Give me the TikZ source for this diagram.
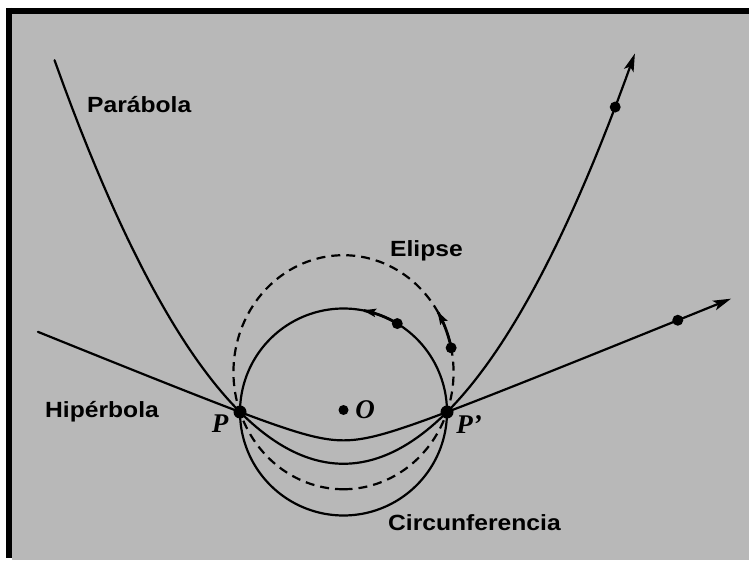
\documentclass[tikz,border=0pt]{standalone}
\usepackage{fontspec}
\setmainfont{Liberation Serif}
\setsansfont{Liberation Sans}
\usetikzlibrary{arrows.meta}
\begin{document}
\begin{tikzpicture}[x=1pt,y=1pt,
  declare function={cx(\e,\t)=343.5+103.5*sin(\t)/(1+\e*cos(\t));
                    cy(\e,\t)=148-103.5*cos(\t)/(1+\e*cos(\t));},
  curve/.style={line width=2.2pt, line cap=round},
  dashcurve/.style={line width=2.2pt, dash pattern=on 9pt off 6pt},
  orbarrow/.style={line width=2.8pt, -{Stealth[length=13pt,width=8pt,inset=2pt]}},
  bigtip/.style={-{Stealth[length=18pt,width=10pt,inset=4pt]}},
  dot/.style={circle, fill=black, inner sep=0pt, minimum size=#1},
  lab/.style={font=\fontsize{22}{26}\selectfont\sffamily\bfseries, inner sep=0pt, anchor=base west},
  ptlab/.style={font=\fontsize{27}{30}\selectfont\bfseries\itshape, inner sep=0pt},
]
\useasboundingbox (0,0) rectangle (749,560);
\fill[white] (0,0) rectangle (749,560);
\fill[black!28] (12,0) rectangle (749,546);
\draw[line width=6pt] (6,549) -- (749,549);
\draw[line width=6pt] (9,552) -- (9,2);

% circle
\draw[curve] plot[domain=0:360, samples=180, variable=\t] ({cx(0,\t)},{cy(0,\t)});
% ellipse
\draw[dashcurve] plot[domain=0:360, samples=200, variable=\t] ({cx(0.34,\t)},{cy(0.34,\t)});
% parabola
\draw[curve, bigtip] plot[domain=-140.6:140.9, samples=240, variable=\t] ({cx(1,\t)},{cy(1,\t)});
% hyperbola
\draw[curve, bigtip] plot[domain=-104.7:106.3, samples=240, variable=\t] ({cx(2.65,\t)},{cy(2.65,\t)});

% orbit arrows
\draw[orbarrow] plot[domain=148.7:169.3, samples=30, variable=\t] ({cx(0,\t)},{cy(0,\t)});
\draw[orbarrow] plot[domain=120.8:137, samples=30, variable=\t] ({cx(0.34,\t)},{cy(0.34,\t)});

% dots
\node[dot=13pt] (P) at (240,148) {};
\node[dot=13pt] (Pp) at (447,148) {};
\node[dot=10pt] (O) at (343.5,150) {};
\node[dot=11pt] (dc) at ({cx(0,148.7)},{cy(0,148.7)}) {};
\node[dot=11pt] (de) at ({cx(0.34,120.8)},{cy(0.34,120.8)}) {};
\node[dot=11pt] (dp) at ({cx(1,138.3)},{cy(1,138.3)}) {};
\node[dot=11pt] (dh) at ({cx(2.65,105.35)},{cy(2.65,105.35)}) {};

% labels
\node[lab] (parab) at (87,447) {\scalebox{1.12}[1]{Parábola}};
\node[lab] (hiper) at (45,143) {\scalebox{1.12}[1]{Hipérbola}};
\node[lab] (elip) at (390,303) {\scalebox{1.12}[1]{Elipse}};
\node[lab] (circ) at (388,30) {\scalebox{1.12}[1]{Circunferencia}};
\node[ptlab] (Plab) at (220,136) {P};
\node[ptlab] (Pplab) at (469,135) {P’};
\node[ptlab] (Olab) at (365,150) {O};
\end{tikzpicture}
\end{document}
